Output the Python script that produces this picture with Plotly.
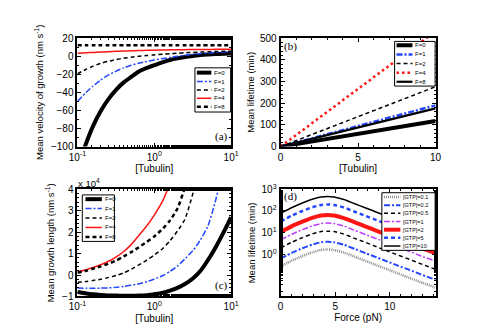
import plotly.graph_objects as go

W, H = 479, 330

# ---------------- data ----------------
# panels (a) and (c): [Tubulin] grid (log axis)
tubulin = [0.1, 0.13, 0.16, 0.2, 0.25, 0.32, 0.4, 0.5, 0.63, 0.8, 1, 1.3, 1.6, 2, 2.5, 3.2, 4, 5, 6.3, 8, 10]
force_labels = ["F=0", "F=1", "F=2", "F=4", "F=8"]

vel_F0 = [-125, -96, -77, -61, -48, -37, -29, -23, -17, -13, -10, -6.5, -4.2, -2.4, -1, 0.2, 1.2, 1.8, 2.3, 2.7, 3]
vel_F1 = [-50, -40, -33, -26.5, -21, -16.5, -13, -10, -7.8, -5.8, -4.2, -2.6, -1.4, -0.2, 1, 2, 2.8, 3.5, 4.1, 4.6, 5]
vel_F2 = [-19.5, -14.5, -11, -8, -5.8, -3.8, -2.3, -1.1, -0.1, 0.7, 1.4, 2.1, 2.7, 3.2, 3.7, 4.1, 4.5, 4.8, 5.1, 5.3, 5.5]
vel_F4 = [3.2, 3.7, 4.1, 4.5, 4.9, 5.3, 5.6, 5.9, 6.2, 6.4, 6.6, 6.8, 6.95, 7.1, 7.2, 7.3, 7.4, 7.45, 7.5, 7.55, 7.6]
vel_F8 = [12, 12, 12, 12, 12, 12, 12, 12, 12, 12, 12, 12, 12, 12, 12, 12, 12, 12, 12, 12, 12]

# growth length in units of 1e4
len_F0 = [-0.79, -0.86, -0.9, -0.93, -0.95, -0.96, -0.97, -0.97, -0.96, -0.94, -0.9, -0.83, -0.73, -0.6, -0.42, -0.15, 0.2, 0.7, 1.3, 2.0, 2.7]
len_F1 = [-0.61, -0.62, -0.62, -0.61, -0.6, -0.57, -0.53, -0.48, -0.41, -0.31, -0.19, -0.02, 0.17, 0.42, 0.75, 1.15, 1.65, 2.3, 3.5, 5.2, 8]
len_F2 = [-0.34, -0.3, -0.25, -0.2, -0.12, -0.02, 0.1, 0.27, 0.47, 0.7, 0.93, 1.25, 1.6, 2.05, 2.6, 3.85, 5.5, 8, 12, 18, 26]
len_F4 = [0.15, 0.25, 0.35, 0.48, 0.63, 0.85, 1.1, 1.42, 1.85, 2.3, 2.8, 3.5, 4.3, 5.5, 7, 9, 12, 15, 19, 25, 32]
len_F8 = [0.11, 0.2, 0.3, 0.4, 0.52, 0.68, 0.87, 1.07, 1.3, 1.55, 1.8, 2.18, 2.55, 3.1, 4.1, 5.7, 8, 11, 15, 21, 29]

# panel (b): linear [Tubulin]
tubulin_lin = [0, 2, 4, 6, 8, 10]
life_F0 = [0, 24, 47, 71, 94, 118]
life_F1 = [0, 38, 76, 114, 152, 190]
life_F2 = [0, 55, 110, 165, 220, 276]
life_F4 = [0, 106, 213, 319, 426, 532]
life_F8 = [0, 35, 70, 106, 141, 176]

# panel (d): force
force = [0, 1, 2, 2.9, 3.7, 4.3, 4.9, 5.8, 6.8, 7.8, 8.8, 9.8, 10.8, 11.8, 12.8, 14.2]
gtp_labels = ["[GTP]=0.1", "[GTP]=0.2", "[GTP]=0.5", "[GTP]=1", "[GTP]=2", "[GTP]=5", "[GTP]=10"]
lt_g01 = [0.275, 0.50, 0.83, 1.23, 1.58, 1.66, 1.58, 1.2, 0.77, 0.49, 0.31, 0.20, 0.127, 0.081, 0.052, 0.029]
lt_g02 = [0.63, 1.15, 1.9, 2.8, 3.6, 3.8, 3.6, 2.75, 1.76, 1.12, 0.72, 0.46, 0.29, 0.19, 0.12, 0.066]
lt_g05 = [1.95, 3.55, 5.9, 8.7, 11.2, 11.7, 11.2, 8.5, 5.4, 3.5, 2.2, 1.41, 0.90, 0.58, 0.37, 0.20]
lt_g1 = [4.6, 8.3, 13.8, 20.4, 26.3, 27.5, 26.3, 20, 12.7, 8.1, 5.2, 3.3, 2.1, 1.35, 0.86, 0.48]
lt_g2 = [10.7, 19.5, 32, 48, 62, 65, 62, 47, 30, 19, 12.2, 7.8, 5.0, 3.2, 2.0, 1.12]
lt_g5 = [33, 60, 100, 148, 190, 200, 190, 145, 92, 59, 38, 24, 15.3, 9.8, 6.2, 3.5]
lt_g10 = [77.6, 141, 234, 347, 447, 468, 447, 339, 216, 138, 88, 56, 36, 23, 14.6, 8.1]

# ---------------- styles ----------------
BLUE = "#2346ff"
RED = "#ff1414"
PURPLE = "#c03cff"
GRAY = "#8c8c8c"
DASHDOT = "6px,2px,2px,2px"
DASH = "4px,3px"

style_ac = [
    dict(color="black", width=4, dash="solid"),
    dict(color=BLUE, width=1.5, dash=DASHDOT),
    dict(color="black", width=1.5, dash=DASH),
    dict(color=RED, width=1.5, dash="solid"),
    dict(color="black", width=2.5, dash=DASH),
]
style_b = [
    dict(color="black", width=4, dash="solid"),
    dict(color=BLUE, width=2.5, dash=DASHDOT),
    dict(color="black", width=1.5, dash=DASH),
    dict(color=RED, width=2.5, dash="2.5px,3px"),
    dict(color="black", width=2.2, dash="solid"),
]
style_d = [
    dict(color=GRAY, width=2.5, dash="1px,1px"),
    dict(color=BLUE, width=2, dash=DASHDOT),
    dict(color="black", width=1.5, dash=DASH),
    dict(color=PURPLE, width=1.5, dash=DASHDOT),
    dict(color=RED, width=4, dash="solid"),
    dict(color=BLUE, width=2.5, dash=DASH),
    dict(color="black", width=1.5, dash="solid"),
]

fig = go.Figure()

def add_series(xs, ys_list, styles, names, xa, ya, shape="spline"):
    for ys, st, nm in zip(ys_list, styles, names):
        if shape == "spline":
            ln = dict(shape="spline", smoothing=0.6, **st)
        else:
            ln = dict(**st)
        fig.add_trace(go.Scatter(x=xs, y=ys, mode="lines", name=nm, showlegend=False,
                                 line=ln, xaxis=xa, yaxis=ya))

add_series(tubulin, [vel_F0, vel_F1, vel_F2, vel_F4, vel_F8], style_ac, force_labels, "x", "y")
add_series(tubulin_lin, [life_F0, life_F1, life_F2, life_F4, life_F8], style_b, force_labels, "x2", "y2", shape="linear")
add_series(tubulin, [len_F0, len_F1, len_F2, len_F4, len_F8], style_ac, force_labels, "x3", "y3")
add_series(force, [lt_g01, lt_g02, lt_g05, lt_g1, lt_g2, lt_g5, lt_g10], style_d, gtp_labels, "x4", "y4")

def px(x):
    return x / W

def py(y):
    return 1 - y / H

FONT = "Liberation Sans"
TICKF = dict(family=FONT, size=10, color="black")
TITLEF = dict(family=FONT, size=9.5, color="black")
XTITLEF = dict(family=FONT, size=10, color="black")

common = dict(showline=True, linecolor="black", linewidth=2, mirror="ticks", ticks="inside",
              ticklen=4, tickwidth=1, tickcolor="black", showgrid=False, zeroline=False,
              tickfont=TICKF)

logticks = dict(type="log", range=[-1, 1], tickvals=[0.1, 1, 10],
                ticktext=["10<sup>-1</sup>", "10<sup>0</sup>", "10<sup>1</sup>"],
                minor=dict(ticks="inside", ticklen=2, tickcolor="black"))

ax_a = [62.7, 222]
ax_b = [273.3, 434]
top_row = [24, 137]
bot_row = [181.5, 293]

fig.update_layout(
    width=W, height=H, autosize=False,
    margin=dict(l=0, r=0, t=0, b=0),
    paper_bgcolor="white", plot_bgcolor="white",
    showlegend=False,
    xaxis=dict(domain=[px(ax_a[0]), px(ax_a[1])], anchor="y", **common, **logticks,
               title=dict(text="[Tubulin]", font=XTITLEF, standoff=2)),
    yaxis=dict(domain=[py(top_row[1]), py(top_row[0])], anchor="x", range=[-100, 20],
               tickvals=[-100, -80, -60, -40, -20, 0, 20], **common,
               minor=dict(ticks="inside", ticklen=2, tickcolor="black", dtick=10),
               title=dict(text="Mean velocity of growth (nm s<sup>-1</sup>)", font=TITLEF, standoff=6)),
    xaxis2=dict(domain=[px(ax_b[0]), px(ax_b[1])], anchor="y2", range=[0, 10], tickvals=[0, 5, 10], **common,
                minor=dict(ticks="inside", ticklen=2, tickcolor="black", dtick=1),
                title=dict(text="[Tubulin]", font=XTITLEF, standoff=2)),
    yaxis2=dict(domain=[py(top_row[1]), py(top_row[0])], anchor="x2", range=[0, 500],
                tickvals=[0, 100, 200, 300, 400, 500], **common,
                minor=dict(ticks="inside", ticklen=2, tickcolor="black", dtick=20),
                title=dict(text="Mean lifetime (min)", font=TITLEF, standoff=4)),
    xaxis3=dict(domain=[px(ax_a[0]), px(ax_a[1])], anchor="y3", **common, **logticks,
                title=dict(text="[Tubulin]", font=XTITLEF, standoff=4)),
    yaxis3=dict(domain=[py(bot_row[1]), py(bot_row[0])], anchor="x3", range=[-1, 4],
                tickvals=[-1, 0, 1, 2, 3, 4], **common,
                minor=dict(ticks="inside", ticklen=2, tickcolor="black", dtick=0.2),
                title=dict(text="Mean growth length (nm s<sup>-1</sup>)", font=TITLEF, standoff=6)),
    xaxis4=dict(domain=[px(ax_b[0]), px(ax_b[1])], anchor="y4", range=[0, 14.2], tickvals=[0, 5, 10], **common,
                minor=dict(ticks="inside", ticklen=2, tickcolor="black", dtick=1),
                title=dict(text="Force (pN)", font=XTITLEF, standoff=2)),
    yaxis4=dict(domain=[py(bot_row[1]), py(bot_row[0])], anchor="x4", type="log", range=[-1.95, 3],
                tickvals=[1, 10, 100, 1000],
                ticktext=["10<sup>0</sup>", "10<sup>1</sup>", "10<sup>2</sup>", "10<sup>3</sup>"], **common,
                minor=dict(ticks="inside", ticklen=2, tickcolor="black"),
                title=dict(text="Mean lifetime (min)", font=TITLEF, standoff=4)),
)

# panel letters
SERIF = dict(family="Liberation Serif", size=11, color="black")
for txt, (x, y) in [("(a)", (212, 126)), ("(b)", (284, 33)), ("(c)", (212, 282)), ("(d)", (284, 189))]:
    fig.add_annotation(text=txt, x=px(x), y=py(y), xref="paper", yref="paper",
                       showarrow=False, font=SERIF, xanchor="center", yanchor="middle")

fig.add_annotation(text="x 10<sup>4</sup>", x=px(61), y=py(175), xref="paper", yref="paper",
                   showarrow=False, font=dict(family=FONT, size=9.5, color="black"),
                   xanchor="left", yanchor="middle")

# compact legends (box, key lines, labels)
def add_legend(box, ys, sx, tx, labels, styles, fsize):
    fig.add_shape(type="rect", xref="paper", yref="paper",
                  x0=px(box[0]), x1=px(box[2]), y0=py(box[3]), y1=py(box[1]),
                  line=dict(color="black", width=1), fillcolor="white", layer="above")
    for y, lab, st in zip(ys, labels, styles):
        fig.add_shape(type="line", xref="paper", yref="paper",
                      x0=px(sx[0]), x1=px(sx[1]), y0=py(y), y1=py(y),
                      line=dict(color=st["color"], width=st["width"], dash=st["dash"]), layer="above")
        fig.add_annotation(text=lab, x=px(tx), y=py(y), xref="paper", yref="paper",
                           showarrow=False, xanchor="left", yanchor="middle",
                           font=dict(family=FONT, size=fsize, color="black"))

add_legend([184.5, 55, 221.5, 101], [60, 69.3, 78, 86.7, 95.5], [186.5, 201.5], 202.5,
           force_labels, style_ac, 6)
add_legend([391.5, 27.5, 433.5, 74], [31.5, 41, 50.5, 60, 69.5], [393.5, 410], 411,
           force_labels, style_b, 6)
add_legend([67.7, 187.3, 101, 235.7], [191.7, 201.5, 211.3, 221.2, 231], [71, 88], 89,
           force_labels, style_ac, 6)
add_legend([378.3, 185, 433.5, 245], [189.5, 198, 206.5, 215, 223.5, 232, 240.5], [380.5, 397.5], 398.5,
           gtp_labels, style_d, 5.5)

fig.write_html("out.html")
